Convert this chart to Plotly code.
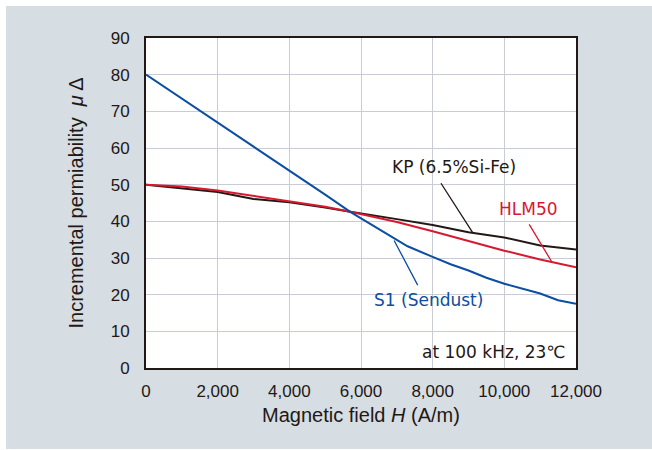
import plotly.graph_objects as go

# ---- data ----
kp_x = [0, 1000, 2000, 3000, 4000, 5000, 5700, 7000, 8000, 9000, 10000, 11000, 12000]
kp_y = [50, 49.0, 48.0, 46.1, 45.2, 43.8, 42.6, 40.6, 39.0, 37.0, 35.6, 33.4, 32.3]

hlm_x = [0, 1000, 2000, 3000, 4000, 5000, 5700, 7000, 8000, 9000, 10000, 11000, 12000]
hlm_y = [50, 49.5, 48.4, 46.9, 45.6, 44.0, 42.6, 39.8, 37.3, 34.6, 32.0, 29.6, 27.5]

s1_x = [0, 1000, 2000, 3000, 4000, 5000, 5700, 6900, 7300, 8000, 8500, 9000, 9500, 10000, 11000, 11500, 12000]
s1_y = [80, 73.5, 67.0, 60.5, 54.0, 47.3, 42.6, 35.5, 33.2, 30.3, 28.3, 26.6, 24.6, 23.0, 20.3, 18.5, 17.5]

x_ticks = [0, 2000, 4000, 6000, 8000, 10000, 12000]
y_ticks = [0, 10, 20, 30, 40, 50, 60, 70, 80, 90]

# label positions (data coordinates) and leader lines
labels = [
    # text, colour, text x, text y, leader tail x, tail y, leader head x, head y
    ("KP (6.5%Si-Fe)", "#231815", 8590, 54.7, 8205, 50.8, 9117, 36.9),
    ("HLM50", "#d7192f", 10680, 43.4, 10669, 39.6, 11339, 28.7),
    ("S1 (Sendust)", "#0b4ea2", 7880, 18.5, 6902, 35.2, 7582, 22.6),
]

FONT = "Liberation Sans, Arial, sans-serif"
LABEL_FONT = "DejaVu Sans, sans-serif"
DARK = "#231815"
GRAY_BG = "#d6dee4"

fig = go.Figure()
fig.add_trace(go.Scatter(x=kp_x, y=kp_y, mode="lines", line=dict(color=DARK, width=2), showlegend=False))
fig.add_trace(go.Scatter(x=hlm_x, y=hlm_y, mode="lines", line=dict(color="#d7192f", width=2), showlegend=False))
fig.add_trace(go.Scatter(x=s1_x, y=s1_y, mode="lines", line=dict(color="#0b4ea2", width=2), showlegend=False))

annotations = []
for text, col, tx, ty, ax0, ay0, hx, hy in labels:
    annotations.append(dict(x=tx, y=ty, xref="x", yref="y", text=text, showarrow=False,
                            font=dict(family=LABEL_FONT, size=17, color=col)))
    annotations.append(dict(x=hx, y=hy, xref="x", yref="y", ax=ax0, ay=ay0, axref="x", ayref="y",
                            text="", showarrow=True, arrowhead=0, arrowwidth=1.3, arrowcolor=col,
                            standoff=0, startstandoff=0))
annotations.append(dict(x=11760, y=4.4, xref="x", yref="y", xanchor="right", text="at 100 kHz, 23℃",
                        showarrow=False, font=dict(family=LABEL_FONT, size=17, color=DARK)))

fig.update_layout(
    width=652, height=450,
    margin=dict(l=146, r=76, t=38, b=82),
    paper_bgcolor=GRAY_BG, plot_bgcolor="white",
    font=dict(family=FONT, size=17, color=DARK),
    annotations=annotations,
    shapes=[
        dict(type="rect", xref="paper", yref="paper", x0=-0.40, x1=1.25, y0=1.097, y1=1.20,
             fillcolor="white", line=dict(width=0), layer="above"),
        dict(type="rect", xref="paper", yref="paper", x0=-0.40, x1=-0.3256, y0=-0.30, y1=1.20,
             fillcolor="white", line=dict(width=0), layer="above"),
        dict(type="rect", xref="paper", yref="paper", x0=-0.40, x1=1.25, y0=-0.30, y1=-0.2455,
             fillcolor="white", line=dict(width=0), layer="above"),
    ],
)
fig.update_xaxes(range=[0, 12000], tickvals=x_ticks, tickformat=",", showgrid=True,
                 gridcolor="#c9ccd5", gridwidth=1, zeroline=False, showline=True, mirror=True,
                 linecolor=DARK, linewidth=2, ticks="", ticklabelstandoff=7,
                 title=dict(text="Magnetic field <i>H</i> (A/m)", standoff=8))
fig.update_yaxes(range=[0, 90], tickvals=y_ticks, showgrid=True,
                 gridcolor="#c9ccd5", gridwidth=1, zeroline=False, showline=True, mirror=True,
                 linecolor=DARK, linewidth=2, ticks="", ticklabelstandoff=11,
                 title=dict(text="Incremental permiability  <i>μ</i> Δ", standoff=22))

fig.write_html("out.html")
